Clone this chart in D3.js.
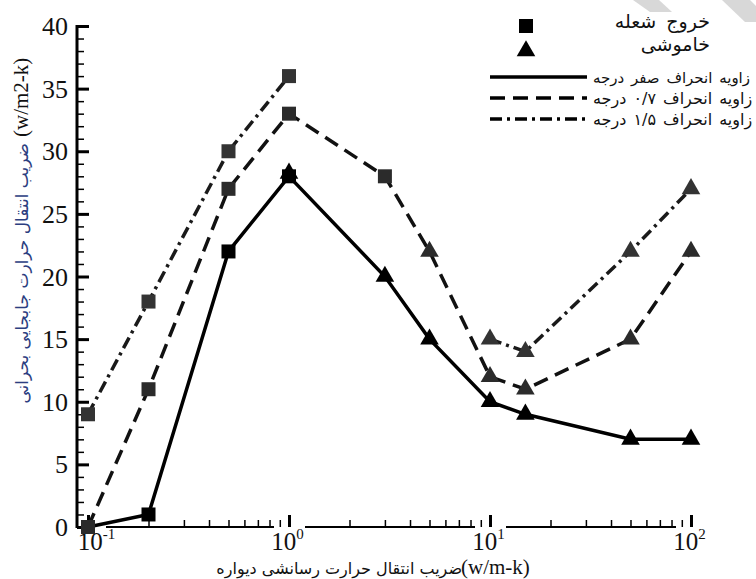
<!DOCTYPE html>
<html>
<head>
<meta charset="utf-8">
<script src="https://cdn.jsdelivr.net/npm/d3@7"></script>
<style>
    body { margin: 0; background: #fff; }
    svg { display: block; }
</style>
</head>
<body>
<div id="chart"></div>
<script>

// conductivity of the wall (w/m-k)
const conductivity = [0.1, 0.2, 0.5, 1, 3, 5, 10, 15, 50, 100];

// critical convection coefficient (w/m2-k), one list per deviation angle
const angle0 = [0, 1, 22, 28, 20, 15, 10, 9, 7, 7];
const angle07 = [0, 11, 27, 33, 28, 22, 12, 11, 15, 22];
const angle15 = [9, 18, 30, 36, null, null, 15, 14, 22, 27];

// marker per point: s = flame exit (square), t = extinction (triangle)
const markers0 = ["s", "s", "s", "st", "t", "t", "t", "t", "t", "t"];
const markers07 = ["s", "s", "s", "s", "s", "t", "t", "t", "t", "t"];
const markers15 = ["s", "s", "s", "s", null, null, "t", "t", "t", "t"];

const yTicks = [0, 5, 10, 15, 20, 25, 30, 35, 40];
const xDecades = [0.1, 1, 10, 100];

const legendMarkers = ["خروج شعله", "خاموشی"];
const legendLines = [
    "زاویه  انحراف صفر درجه",
    "زاویه  انحراف ۰/۷ درجه",
    "زاویه  انحراف ۱/۵ درجه"
];

const serif = "'Liberation Serif', 'Times New Roman', 'DejaVu Serif', serif";
const persian = "'DejaVu Sans', 'Noto Sans', sans-serif";

const width = 756;
const height = 579;

const svg = d3.select("#chart").append("svg")
    .attr("width", width)
    .attr("height", height);

// light watermark stripes at the top right
svg.append("polygon")
    .attr("points", "633,0 659,0 672,12 650,12")
    .attr("fill", "#d8d8d8");
svg.append("polygon")
    .attr("points", "722,0 750,0 756,6 756,22 745,22")
    .attr("fill", "#d8d8d8");

const axisX = 77;
const xScale = d3.scaleLog().domain([0.1, 100]).range([88, 691]);
const yScale = d3.scaleLinear().domain([0, 40]).range([527, 26]);

// axis lines
svg.append("line")
    .attr("x1", axisX).attr("x2", 693)
    .attr("y1", yScale(0)).attr("y2", yScale(0))
    .attr("stroke", "#000").attr("stroke-width", 2);

// the tick labels' white boxes cut the bottom axis line
xDecades.forEach((d, i) => {
    const cx = xScale(d);
    const left = i === 0 ? cx + 5 : cx - 15;
    svg.append("rect")
        .attr("x", left).attr("y", yScale(0) - 2)
        .attr("width", i === 0 ? 13 : 31).attr("height", 5)
        .attr("fill", "#fff");
});

svg.append("line")
    .attr("x1", axisX).attr("x2", axisX)
    .attr("y1", 25).attr("y2", yScale(0) + 1)
    .attr("stroke", "#000").attr("stroke-width", 3);

// y axis ticks
const yMinor = svg.append("g")
    .attr("transform", `translate(${axisX},0)`)
    .call(d3.axisLeft(yScale).tickValues(d3.range(0, 41)).tickSize(-7).tickFormat(""));
yMinor.select(".domain").remove();
yMinor.selectAll(".tick line").attr("stroke-width", 1.5);

const yMajor = svg.append("g")
    .attr("transform", `translate(${axisX},0)`)
    .call(d3.axisLeft(yScale).tickValues(yTicks).tickSize(-12).tickPadding(9));
yMajor.select(".domain").remove();
yMajor.selectAll(".tick line").attr("stroke-width", 3);
yMajor.selectAll(".tick text")
    .style("font-family", serif)
    .style("font-size", "26px")
    .attr("fill", "#111")
    .attr("dy", "0.33em");

// x axis ticks
const xMinorValues = [];
xDecades.slice(0, 3).forEach(d => {
    d3.range(2, 10).forEach(k => xMinorValues.push(d * k));
});

const xMinor = svg.append("g")
    .attr("transform", `translate(0,${yScale(0)})`)
    .call(d3.axisBottom(xScale).tickValues(xMinorValues).tickSize(-7).tickFormat(""));
xMinor.select(".domain").remove();
xMinor.selectAll(".tick line").attr("stroke-width", 1.5);

const xMajor = svg.append("g")
    .attr("transform", `translate(0,${yScale(0)})`)
    .call(d3.axisBottom(xScale).tickValues(xDecades).tickSize(-12).tickFormat(""));
xMajor.select(".domain").remove();
xMajor.selectAll(".tick line").attr("stroke-width", 3);

xMajor.selectAll(".tick").each(function(d, i) {
    const exponent = Math.round(Math.log10(d));
    const label = d3.select(this).append("text")
        .attr("x", i === 0 ? 8 : -2)
        .attr("y", 23)
        .attr("text-anchor", "middle")
        .attr("fill", "#111")
        .style("font-family", serif)
        .style("font-size", "25px");
    label.append("tspan").text("10");
    label.append("tspan")
        .style("font-size", "15px")
        .attr("dy", -11)
        .text(exponent);
});

// series
const series = [
    { values: angle0, markers: markers0, dash: null, lineColor: "#000", markColor: "#000" },
    { values: angle07, markers: markers07, dash: "15,8", lineColor: "#111", markColor: "#2b2b2b" },
    { values: angle15, markers: markers15, dash: "12,5,3,5", lineColor: "#1a1a1a", markColor: "#333" }
];

const line = d3.line()
    .defined(d => d.y !== null)
    .x(d => xScale(d.x))
    .y(d => yScale(d.y));

const triangle = d3.symbol().type(d3.symbolTriangle).size(150);

series.forEach(s => {
    const points = conductivity.map((x, i) => ({ x: x, y: s.values[i], m: s.markers[i] }));

    svg.append("path")
        .datum(points)
        .attr("d", line)
        .attr("fill", "none")
        .attr("stroke", s.lineColor)
        .attr("stroke-width", 3.5)
        .attr("stroke-dasharray", s.dash);

    const shown = points.filter(p => p.y !== null);

    svg.selectAll(null)
        .data(shown.filter(p => p.m.includes("t")))
        .enter().append("path")
        .attr("d", triangle)
        .attr("transform", p => `translate(${xScale(p.x)},${yScale(p.y) - (p.m === "st" ? 3 : 0)})`)
        .attr("fill", s.markColor);

    svg.selectAll(null)
        .data(shown.filter(p => p.m.includes("s")))
        .enter().append("rect")
        .attr("x", p => xScale(p.x) - 7)
        .attr("y", p => yScale(p.y) - 7)
        .attr("width", 14)
        .attr("height", 14)
        .attr("fill", s.markColor);
});

// legend
const legend = svg.append("g");

legend.append("rect")
    .attr("x", 519).attr("y", 19)
    .attr("width", 14).attr("height", 14)
    .attr("fill", "#000");
legend.append("path")
    .attr("d", triangle)
    .attr("transform", "translate(526,51)")
    .attr("fill", "#000");

legendMarkers.forEach((label, i) => {
    legend.append("text")
        .attr("x", 710)
        .attr("y", 28 + i * 23)
        .attr("text-anchor", "end")
        .attr("fill", "#111")
        .style("font-family", persian)
        .style("font-size", "19px")
        .style("word-spacing", "4px")
        .text(label);
});

const legendDash = [null, "15,8", "12,5,3,5"];
legendLines.forEach((label, i) => {
    const ly = 77 + i * 21;
    legend.append("line")
        .attr("x1", 490).attr("x2", 587)
        .attr("y1", ly).attr("y2", ly)
        .attr("stroke", "#000")
        .attr("stroke-width", 3.5)
        .attr("stroke-dasharray", legendDash[i]);
    const text = legend.append("text")
        .attr("x", 593)
        .attr("y", ly + 6)
        .attr("direction", "rtl")
        .attr("text-anchor", "end")
        .attr("fill", "#111")
        .style("font-family", persian)
        .style("font-size", "19px")
        .style("word-spacing", "2px")
        .text(label);
    // shrink until the label fits before the right edge
    let size = 19;
    while (text.node().getComputedTextLength() > width - 596 && size > 10) {
        size -= 0.5;
        text.style("font-size", size + "px");
    }
});

// x axis title
const xTitle = svg.append("g").attr("transform", "translate(0,574)");
xTitle.append("text")
    .attr("x", 462)
    .attr("text-anchor", "end")
    .attr("fill", "#111")
    .style("font-family", persian)
    .style("font-size", "16px")
    .text("ضریب انتقال حرارت رسانشی دیواره");
xTitle.append("text")
    .attr("x", 461)
    .attr("fill", "#111")
    .style("font-family", serif)
    .style("font-size", "21px")
    .text("(w/m-k)");

// y axis title
const yTitle = svg.append("g").attr("transform", "translate(28,410) rotate(-90)");
yTitle.append("text")
    .attr("x", 267)
    .attr("text-anchor", "end")
    .attr("fill", "#2c3e80")
    .style("font-family", persian)
    .style("font-size", "17px")
    .text("ضریب انتقال حرارت جابجایی بحرانی");
yTitle.append("text")
    .attr("x", 273)
    .attr("fill", "#111")
    .style("font-family", serif)
    .style("font-size", "21px")
    .text("(w/m2-k)");

</script>
</body>
</html>
